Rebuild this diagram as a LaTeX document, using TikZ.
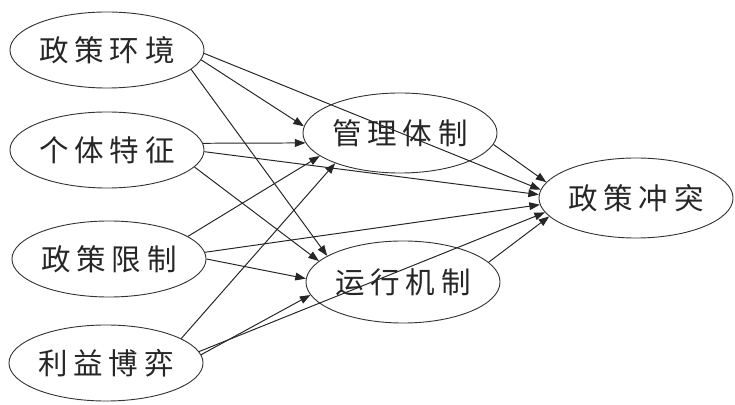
\documentclass[tikz,border=0pt]{standalone}
\usepackage{fontspec}
\newfontfamily\cjk[LetterSpace=20]{Noto Sans CJK SC}
\usetikzlibrary{shapes.geometric,arrows.meta}
\begin{document}
\begin{tikzpicture}[x=0.025cm,y=-0.025cm,
 ele/.style={draw=black!80,ellipse,line width=.65pt,minimum width=4.85cm,minimum height=1.9cm,
  inner xsep=-12pt,inner ysep=0pt,font=\cjk\fontsize{21}{24}\selectfont,text=black!85},
 lnk/.style={->,draw=black!85,line width=.7pt},
 >={Triangle[length=7.5pt,width=5.5pt]}]
	\useasboundingbox (0,0) rectangle (735,405);

	\node[ele] (a1) at (107,50) {政策环境};
	\node[ele] (a2) at (107,150) {个体特征};
	\node[ele] (a3) at (109,259) {政策限制};
	\node[ele] (a4) at (106,363) {利益博弈};
	\node[ele,minimum height=2cm] (b1) at (400,133) {管理体制};
	\node[ele,minimum height=2.05cm] (b2) at (403,282) {运行机制};
	\node[ele,minimum height=2cm] (c1) at (636,198) {政策冲突};

	\draw[lnk] (a1.-6) -- (b1.176);
	\draw[lnk] (a1.-2) -- (c1.175);
	\draw[lnk] (a1.-13.5) -- (b2.161);
	\draw[lnk] (a2.4) -- (b1.186);
	\draw[lnk] (a2.-1) -- (c1.178);
	\draw[lnk] (a2.-11) -- (b2.166);
	\draw[lnk] (a3.16) -- (b1.196);
	\draw[lnk] (a3.4) -- (c1.184);
	\draw[lnk] (a3.0) -- (b2.178);
	\draw[lnk] (a4.18) -- (b1.205);
	\draw[lnk] (a4.5) -- (b2.188);
	\draw[lnk] (a4.7) -- (c1.189);
	\draw[lnk] (b1.-7) -- (c1.170);
	\draw[lnk] (b2.13) -- (c1.192);
\end{tikzpicture}
\end{document}
